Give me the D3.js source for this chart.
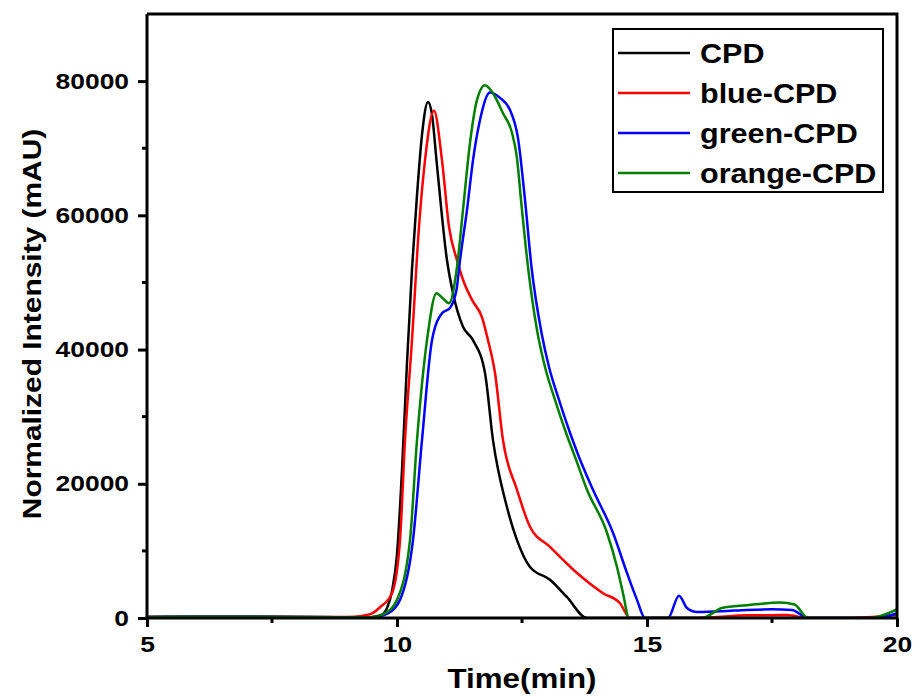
<!DOCTYPE html>
<html>
<head>
<meta charset="utf-8">
<script src="https://cdn.jsdelivr.net/npm/d3@7"></script>
<style>
  body { margin: 0; background: #fff; }
  text { font-family: "Liberation Sans", Arial, sans-serif; font-weight: bold; fill: #000; }
</style>
</head>
<body>
<svg width="914" height="698"></svg>
<script>
// chromatogram data
var cpdT = [5, 6, 7, 8, 9, 9.5, 9.7, 9.8, 9.9, 10.0, 10.1, 10.2, 10.3, 10.4, 10.5, 10.62, 10.7, 10.79, 11.0, 11.12, 11.32, 11.52, 11.76, 11.92, 12.2, 12.4, 12.66, 13.06, 13.4, 13.8, 14, 15, 16, 17, 18, 19, 20];
var cpdV = [150, 200, 200, 150, 100, 150, 500, 1500, 4000, 9500, 22000, 38000, 52000, 63000, 72000, 76900, 75000, 68200, 53300, 48400, 43400, 41400, 36500, 26500, 16500, 11600, 7600, 5700, 3100, 0, 0, 0, 0, 0, 0, 0, 0];

var blueT = [5, 6, 7, 8, 9, 9.3, 9.52, 9.66, 9.9, 10.06, 10.16, 10.3, 10.44, 10.56, 10.74, 10.9, 11.04, 11.2, 11.32, 11.5, 11.7, 11.82, 11.96, 12.12, 12.4, 12.66, 13.06, 13.6, 14.12, 14.46, 14.66, 15, 16, 16.3, 17, 17.8, 18.2, 19, 19.4, 20];
var blueV = [150, 200, 200, 150, 150, 300, 750, 1600, 3700, 11600, 26500, 41400, 58300, 68200, 75600, 68200, 58300, 53300, 50400, 47400, 44800, 41400, 36500, 26500, 19100, 13600, 10600, 6700, 3700, 2200, 0, 0, 0, 100, 400, 450, 0, 0, 100, 500];

var greenT = [5, 6, 7, 8, 9, 9.5, 9.82, 10.06, 10.32, 10.5, 10.7, 10.9, 11.06, 11.19, 11.26, 11.4, 11.52, 11.66, 11.86, 12.06, 12.26, 12.42, 12.56, 12.69, 12.89, 13.04, 13.24, 13.46, 13.64, 13.92, 14.32, 14.6, 14.8, 14.96, 15.2, 15.42, 15.64, 15.8, 16.0, 16.5, 17.0, 17.5, 17.9, 18.22, 19, 19.6, 20];
var greenV = [150, 200, 200, 150, 100, 100, 700, 2700, 11600, 26500, 41400, 45400, 46200, 48900, 53300, 60800, 68200, 74200, 78300, 77500, 75700, 71500, 62300, 52300, 42500, 37400, 32500, 27600, 24000, 19100, 12700, 6700, 2700, 0, 0, 0, 3300, 1500, 900, 1000, 1200, 1300, 1200, 0, 0, 0, 700];

var orangeT = [5, 6, 7, 8, 9, 9.5, 9.76, 10.0, 10.26, 10.4, 10.6, 10.79, 10.92, 11.04, 11.2, 11.32, 11.46, 11.6, 11.76, 11.92, 12.12, 12.3, 12.4, 12.48, 12.62, 12.81, 12.96, 13.16, 13.38, 13.56, 13.8, 14.2, 14.4, 14.52, 14.64, 15, 16, 16.1, 16.5, 17.0, 17.66, 17.95, 18.22, 19, 19.44, 20];
var orangeV = [150, 200, 200, 150, 100, 100, 700, 2700, 11600, 26500, 41400, 48400, 47600, 46900, 52300, 60800, 70800, 77200, 79400, 78200, 75200, 72300, 68500, 62300, 52300, 42500, 37400, 32500, 27600, 24000, 19100, 12700, 7600, 3700, 0, 0, 0, 0, 1500, 1900, 2300, 2000, 0, 0, 0, 1300];

var seriesNames = ["CPD", "blue-CPD", "green-CPD", "orange-CPD"];
var seriesColors = ["#000000", "#ff0000", "#0000ff", "#007f00"];
var xTicks = [5, 10, 15, 20];
var xMinor = [7.5, 12.5, 17.5];
var yTicks = [0, 20000, 40000, 60000, 80000];
var yMinor = [10000, 30000, 50000, 70000];

// stretch text horizontally (the original font is a wide bold sans)
function stretch(sel, k) {
  sel.each(function() {
    var w = this.getComputedTextLength();
    d3.select(this).attr("textLength", w * k).attr("lengthAdjust", "spacingAndGlyphs");
  });
}

function drawChart() {
  var series = [
    d3.zip(cpdT, cpdV),
    d3.zip(blueT, blueV),
    d3.zip(greenT, greenV),
    d3.zip(orangeT, orangeV)
  ];

  var svg = d3.select("svg");
  var pl = 147, pr = 897, pt = 14, pb = 618;

  var x = d3.scaleLinear().domain([5, 20]).range([pl, pr]);
  var y = d3.scaleLinear().domain([0, 90000]).range([pb, pt]);

  svg.append("clipPath").attr("id", "clip")
    .append("rect").attr("x", pl).attr("y", pt).attr("width", pr - pl).attr("height", pb - pt);

  var line = d3.line()
    .x(function(d) { return x(d[0]); })
    .y(function(d) { return y(d[1]); })
    .curve(d3.curveMonotoneX);

  svg.append("g").attr("clip-path", "url(#clip)")
    .selectAll("path")
    .data(series)
    .enter()
    .append("path")
    .attr("d", line)
    .attr("fill", "none")
    .attr("stroke", function(d, i) { return seriesColors[i]; })
    .attr("stroke-width", 2.5)
    .attr("stroke-linejoin", "round");

  // frame (top and right)
  svg.append("path")
    .attr("d", "M" + pl + "," + pt + "H" + pr + "V" + pb)
    .attr("fill", "none").attr("stroke", "#000").attr("stroke-width", 3);

  // axes
  var xAxis = svg.append("g").attr("transform", "translate(0," + pb + ")")
    .call(d3.axisBottom(x).tickValues(xTicks).tickSize(9).tickPadding(8).tickFormat(d3.format("d")));
  xAxis.selectAll(".minor").data(xMinor).enter().append("line")
    .attr("class", "minor")
    .attr("x1", function(d) { return x(d); }).attr("x2", function(d) { return x(d); })
    .attr("y1", 0).attr("y2", 5).attr("stroke", "#000").attr("stroke-width", 3);

  var yAxis = svg.append("g").attr("transform", "translate(" + pl + ",0)")
    .call(d3.axisLeft(y).tickValues(yTicks).tickSize(9).tickPadding(9).tickFormat(d3.format("d")));
  yAxis.selectAll(".minor").data(yMinor).enter().append("line")
    .attr("class", "minor")
    .attr("y1", function(d) { return y(d); }).attr("y2", function(d) { return y(d); })
    .attr("x1", 0).attr("x2", -5).attr("stroke", "#000").attr("stroke-width", 3);

  xAxis.select(".domain").attr("stroke-width", 3).attr("d", "M" + (pl - 1.5) + ",0H" + pr);
  yAxis.select(".domain").attr("stroke-width", 3).attr("d", "M0," + (pb + 1.5) + "V" + pt);
  svg.selectAll(".tick line").attr("stroke-width", 3);
  svg.selectAll(".tick text")
    .attr("font-size", 22).attr("font-family", "Liberation Sans, Arial, sans-serif")
    .attr("font-weight", "bold");
  xAxis.selectAll(".tick text").attr("dy", "0.78em");
  stretch(svg.selectAll(".tick text"), 1.2);

  // axis titles
  svg.append("text")
    .attr("x", (pl + pr) / 2).attr("y", 688)
    .attr("text-anchor", "middle").attr("font-size", 27)
    .text("Time(min)")
    .call(stretch, 1.16);

  svg.append("text")
    .attr("transform", "translate(41," + ((pt + pb) / 2 + 8) + ") rotate(-90)")
    .attr("text-anchor", "middle").attr("font-size", 26)
    .text("Normalized Intensity (mAU)")
    .call(stretch, 1.15);

  // legend
  var legend = svg.append("g");
  legend.append("rect")
    .attr("x", 613).attr("y", 29).attr("width", 270).attr("height", 163)
    .attr("fill", "#fff").attr("stroke", "#000").attr("stroke-width", 2);

  var rows = legend.selectAll(".row").data(seriesNames).enter().append("g")
    .attr("transform", function(d, i) { return "translate(0," + (53 + i * 40) + ")"; });
  rows.append("line")
    .attr("x1", 618).attr("x2", 690)
    .attr("stroke", function(d, i) { return seriesColors[i]; })
    .attr("stroke-width", 2.5);
  rows.append("text")
    .attr("x", 700).attr("dy", "0.36em").attr("font-size", 28)
    .text(function(d) { return d; })
    .call(stretch, 1.09);
}
drawChart();
</script>
</body>
</html>
